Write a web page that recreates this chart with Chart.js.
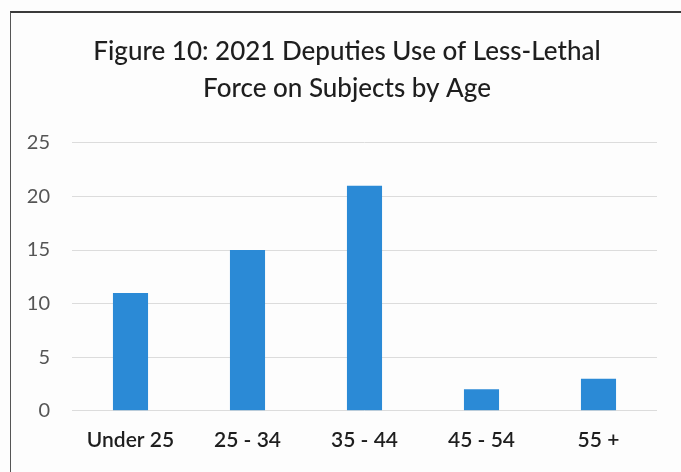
<!DOCTYPE html>
<html>
<head>
<meta charset="utf-8">
<script src="https://cdn.jsdelivr.net/npm/chart.js@4"></script>
<style>
  html, body { margin: 0; padding: 0; background: #fdfdfd; }
  #wrap { position: relative; width: 681px; height: 472px; overflow: hidden; }
  #frame { position: absolute; left: 10px; top: 11px; width: 700px; height: 500px;
           border-top: 2px solid #3a3a3a; border-left: 1px solid #555; box-sizing: border-box; }
  canvas { position: absolute; left: 0; top: 0; }
</style>
</head>
<body>
<div id="wrap">
  <div id="frame"></div>
  <canvas id="chart" width="681" height="472"></canvas>
</div>
<script>
// Age groups and number of less-lethal force uses per group
const ageGroups = ['Under 25', '25 - 34', '35 - 44', '45 - 54', '55 +'];
const forceCounts = [11, 15, 21, 2, 3];
const yTicks = [0, 5, 10, 15, 20, 25];

const titleLines = ['Figure 10: 2021 Deputies Use of Less-Lethal', 'Force on Subjects by Age'];
const fontFamily = 'Lato, "Open Sans", sans-serif';

new Chart(document.getElementById('chart'), {
  type: 'bar',
  data: {
    labels: ageGroups,
    datasets: [{
      data: forceCounts,
      backgroundColor: '#2b8ad6',
      borderWidth: 0,
      categoryPercentage: 1,
      barPercentage: 0.3
    }]
  },
  options: {
    responsive: false,
    animation: false,
    devicePixelRatio: 1,
    layout: { padding: { top: 33, right: 14, bottom: 2, left: 27 } },
    plugins: {
      legend: { display: false },
      tooltip: { enabled: false },
      title: {
        display: true,
        text: titleLines,
        color: '#1e1e1e',
        font: { family: fontFamily, size: 26, weight: '500', lineHeight: 1.42 },
        padding: { top: 0, bottom: 36 }
      }
    },
    scales: {
      x: {
        grid: { display: false, drawTicks: false },
        border: { display: false },
        ticks: {
          color: '#1e1e1e',
          font: { family: fontFamily, size: 21, weight: '600' },
          padding: 17
        }
      },
      y: {
        min: 0,
        max: 25,
        afterBuildTicks: (scale) => { scale.ticks = yTicks.map(v => ({ value: v })); },
        afterFit: (scale) => { scale.width = 45; },
        grid: { color: '#dcdcdc', drawTicks: false, lineWidth: 1 },
        border: { display: false },
        ticks: {
          color: '#555555',
          font: { family: fontFamily, size: 20 },
          padding: 22
        }
      },
      // empty spacer on the right so the plot ends short of the frame edge
      yRight: {
        type: 'linear',
        position: 'right',
        min: 0,
        max: 25,
        afterFit: (scale) => { scale.width = 10; },
        grid: { display: false, drawTicks: false },
        border: { display: false },
        ticks: { display: false }
      }
    }
  }
});
</script>
</body>
</html>
